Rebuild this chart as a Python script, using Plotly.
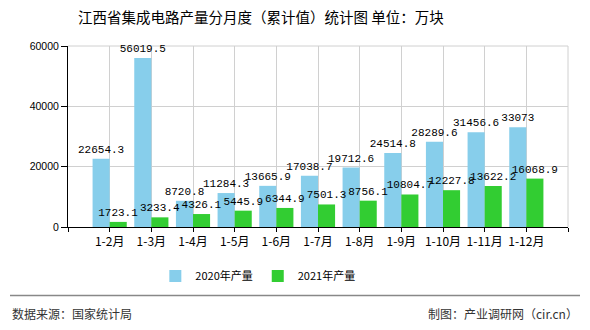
import plotly.graph_objects as go

categories = ["1-2月", "1-3月", "1-4月", "1-5月", "1-6月", "1-7月", "1-8月", "1-9月", "1-10月", "1-11月", "1-12月"]
values_2020 = [22654.3, 56019.5, 8720.8, 11284.3, 13665.9, 17038.7, 19712.6, 24514.8, 28289.6, 31456.6, 33073]
values_2021 = [1723.1, 3233.4, 4326.1, 5445.9, 6344.9, 7501.3, 8756.1, 10804.7, 12227.8, 13622.2, 16068.9]
series_names = ["2020年产量", "2021年产量"]
y_ticks = [0, 20000, 40000, 60000]

title_text = "江西省集成电路产量分月度（累计值）统计图 单位：万块"
source_text = "数据来源：国家统计局"
credit_text = "制图：产业调研网（cir.cn）"

cjk = "Noto Sans CJK SC"
label_font = dict(family="Liberation Mono, monospace", size=11, color="#000")

W, H = 590, 330
ML, MR, MT, MB = 68, 22, 46, 101
PW, PH = W - ML - MR, H - MT - MB


def px_x(px):
    return (px - ML) / PW


def px_y(py):
    return (H - MB - py) / PH


xs = list(range(len(categories)))


def fmt(v):
    return ("%g" % v)


fig = go.Figure()
fig.add_trace(go.Bar(
    x=xs, y=values_2020, name=series_names[0],
    marker=dict(color="#87CEEB", line=dict(width=0)),
    text=[fmt(v) for v in values_2020], textposition="outside",
    textfont=label_font, cliponaxis=False, constraintext="none",
))
fig.add_trace(go.Bar(
    x=xs, y=values_2021, name=series_names[1],
    marker=dict(color="#32CD32", line=dict(width=0)),
    text=[fmt(v) for v in values_2021], textposition="outside",
    textfont=label_font, cliponaxis=False, constraintext="none",
))

tickvals = list(range(-1, len(categories) + 1))
ticktext = [""] + categories + [""]

fig.update_layout(
    width=W, height=H,
    margin=dict(l=ML, r=MR, t=MT, b=MB),
    paper_bgcolor="white", plot_bgcolor="white",
    barmode="group", bargap=0.18, bargroupgap=0,
    uniformtext=dict(mode=False),
    font=dict(family=cjk, color="#000"),
    title=dict(text=title_text, font=dict(family=cjk, size=14.5, color="#000"),
               xref="container", x=0.442, xanchor="center",
               yref="container", y=1 - 18 / H, yanchor="middle"),
    showlegend=True,
    legend=dict(orientation="h", xref="container", x=0.437, xanchor="center",
                yref="container", y=1 - 276 / H, yanchor="middle",
                font=dict(family=cjk, size=11, color="#000"),
                itemwidth=30, traceorder="normal"),
    xaxis=dict(range=[-1, len(categories)], tickmode="array", tickvals=tickvals, ticktext=ticktext,
               showgrid=True, gridcolor="#d0d0d0", gridwidth=1,
               showline=True, linecolor="#000", linewidth=1,
               ticks="outside", ticklen=4, tickcolor="#000",
               tickfont=dict(family=cjk, size=12, color="#000"), zeroline=False, fixedrange=True),
    yaxis=dict(range=[0, 60000], tickmode="array", tickvals=y_ticks,
               ticktext=[str(v) for v in y_ticks],
               showgrid=True, gridcolor="#d0d0d0", gridwidth=1,
               showline=True, linecolor="#000", linewidth=1,
               ticks="outside", ticklen=6, tickcolor="#000",
               tickfont=dict(family="Liberation Sans, Arial", size=10.5, color="#000"),
               zeroline=False, fixedrange=True),
    shapes=[
        dict(type="line", xref="paper", yref="paper", x0=1, x1=1, y0=0, y1=1,
             line=dict(color="#d0d0d0", width=1), layer="below"),
        dict(type="line", xref="paper", yref="paper", x0=0, x1=1, y0=1, y1=1,
             line=dict(color="#d0d0d0", width=1), layer="below"),
        dict(type="line", xref="paper", yref="paper", x0=px_x(10), x1=px_x(580),
             y0=px_y(298), y1=px_y(298), line=dict(color="#888", width=1.5)),
    ],
    annotations=[
        dict(text=source_text, xref="paper", yref="paper", x=px_x(10), y=px_y(316),
             xanchor="left", yanchor="middle", showarrow=False,
             font=dict(family=cjk, size=12, color="#333")),
        dict(text=credit_text, xref="paper", yref="paper", x=px_x(580), y=px_y(316),
             xanchor="right", yanchor="middle", showarrow=False,
             font=dict(family=cjk, size=12, color="#333")),
    ],
)

fig.write_html("out.html")
